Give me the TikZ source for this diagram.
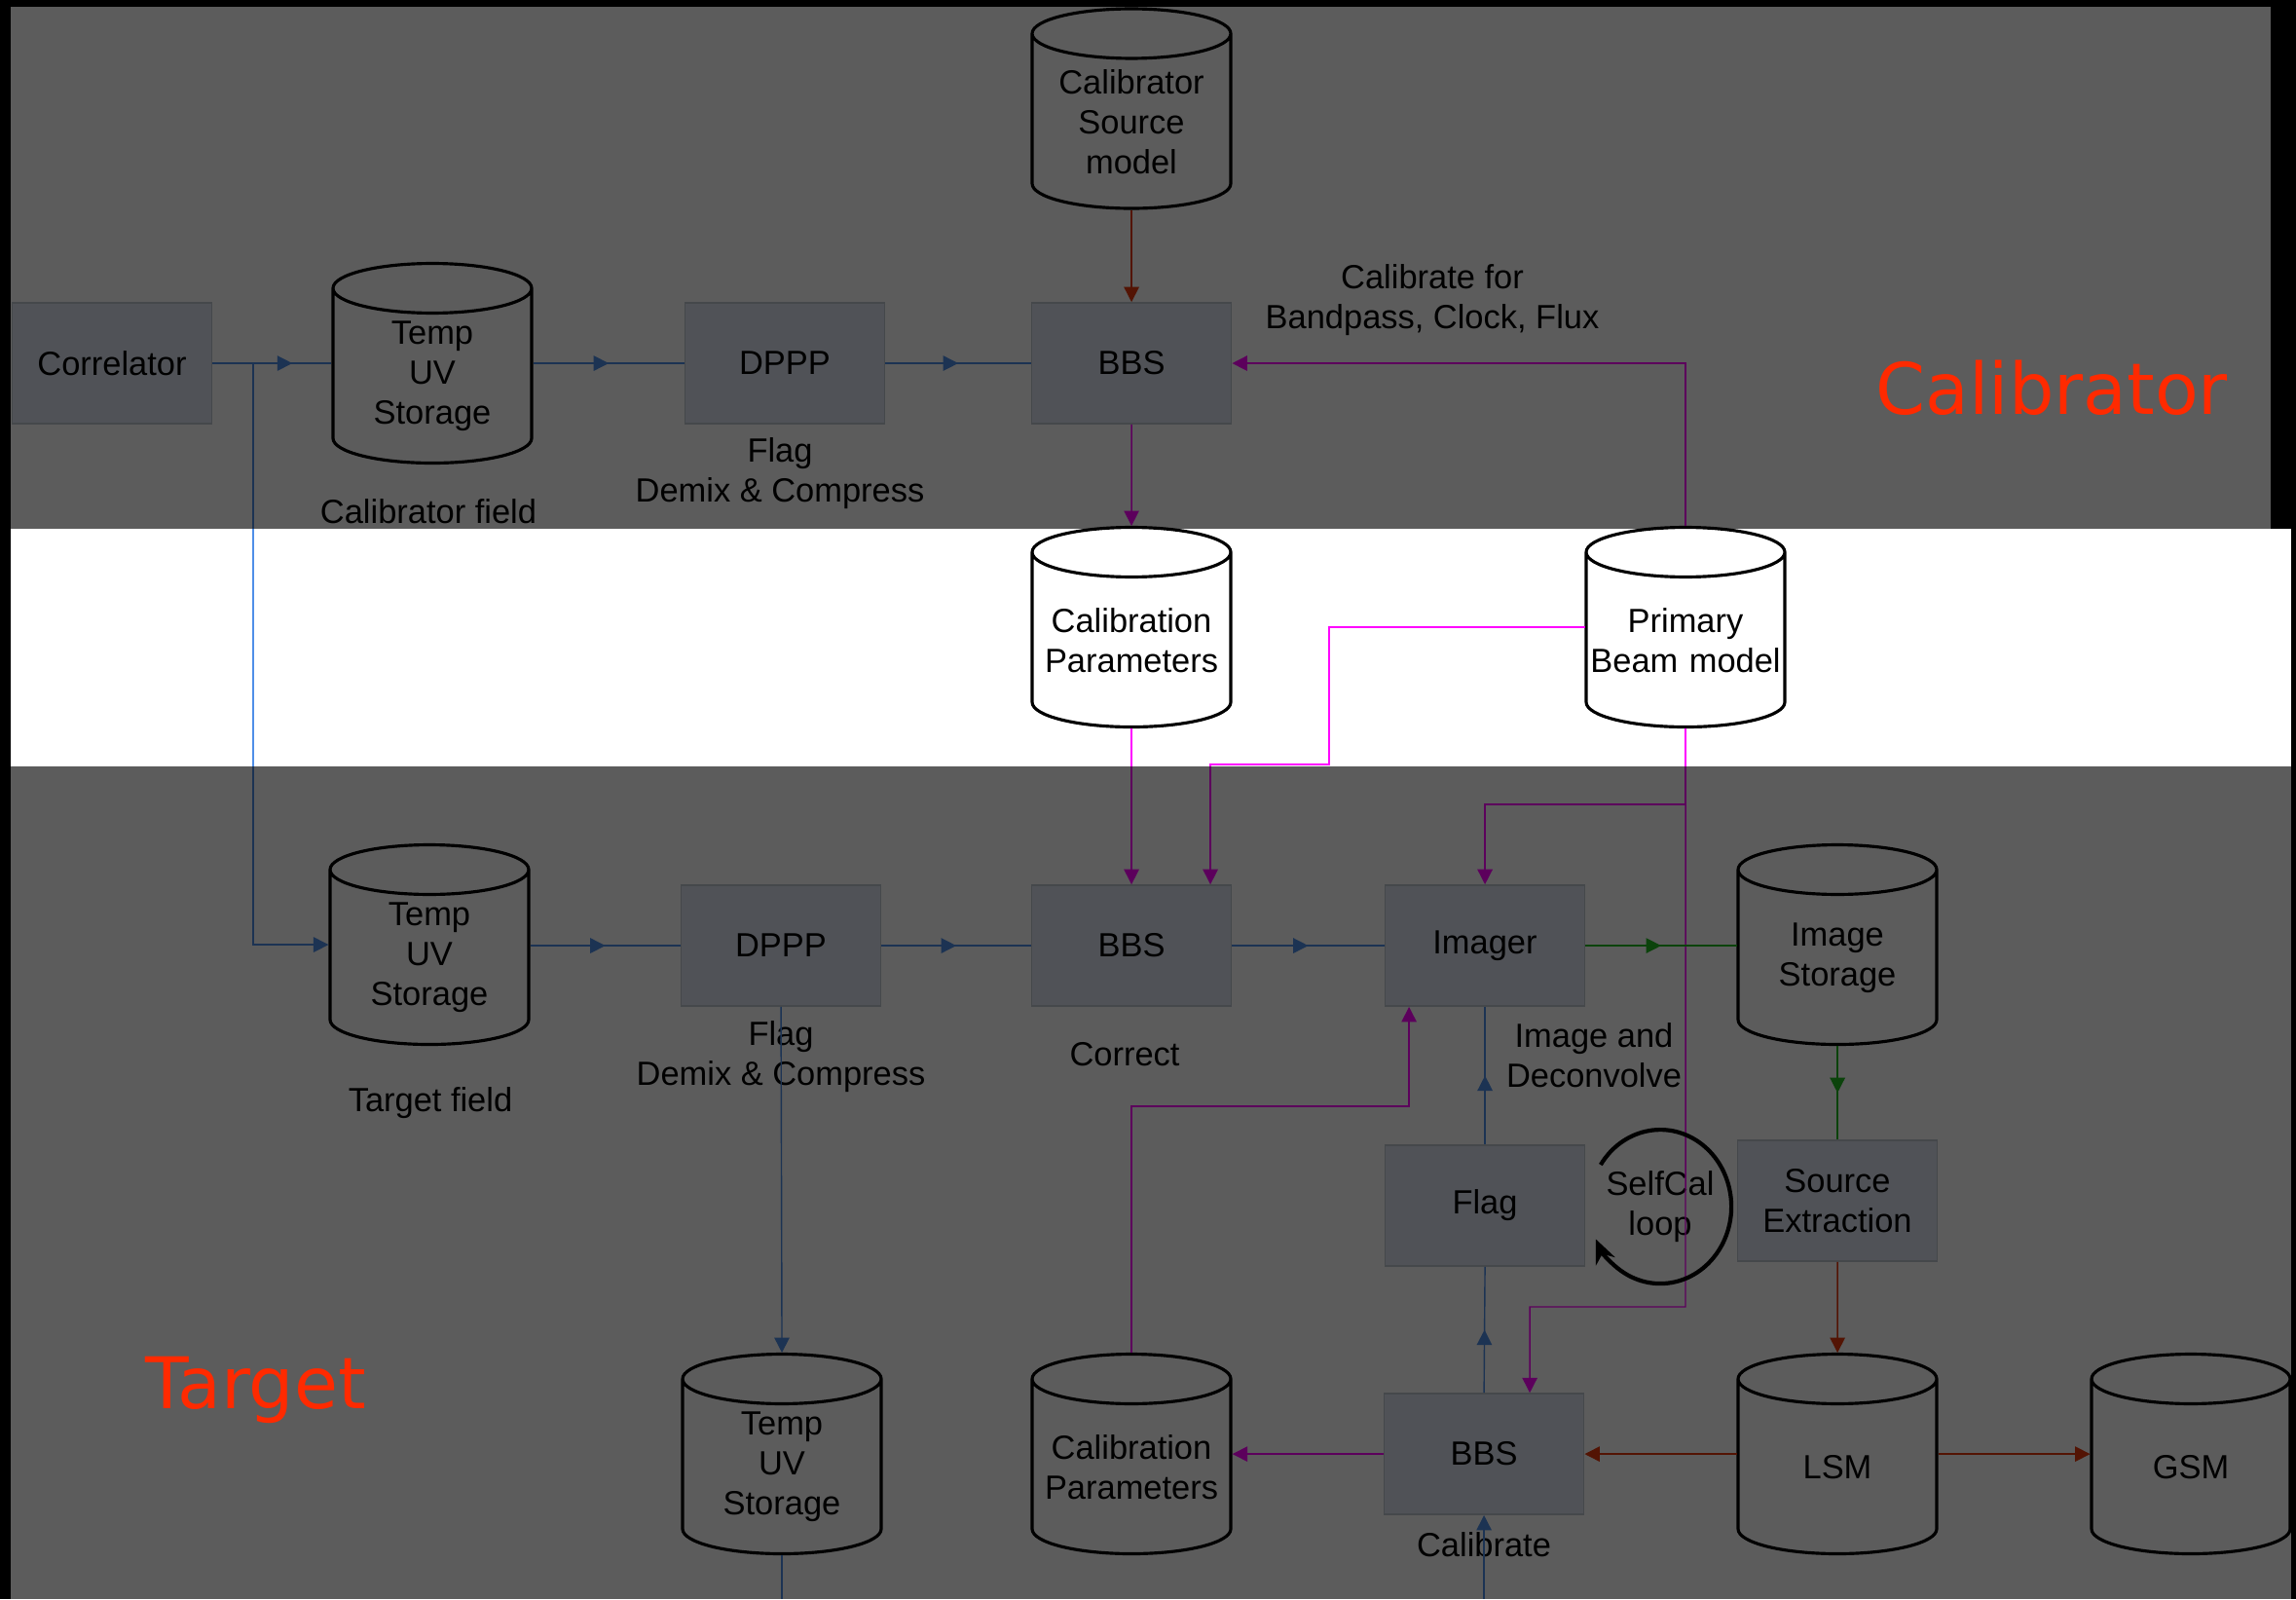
\documentclass[tikz,border=0pt]{standalone}
\usepackage{fontspec}
\setmainfont{Liberation Sans}
\newfontfamily\tagfont{DejaVu Sans}
\usetikzlibrary{shapes.geometric,arrows.meta,decorations.markings,calc}
\definecolor{boxfill}{HTML}{DFE6F3}
\definecolor{boxline}{HTML}{C2C8D2}
\definecolor{flowblue}{HTML}{4F8FE8}
\definecolor{flowpink}{HTML}{FF00FF}
\definecolor{flowred}{HTML}{E8380D}
\definecolor{flowgreen}{HTML}{22BB22}
\definecolor{tagred}{HTML}{FF2A00}

\begin{document}
\begin{tikzpicture}[scale=0.1]
\tikzstyle{every node}+=[inner sep=0pt, font=\fontsize{9.8pt}{11.7pt}\selectfont, align=center]
\tikzstyle{box}=[rectangle, draw=boxline, fill=boxfill, line width=0.5pt, minimum width=2.05cm, minimum height=1.24cm]
\tikzstyle{store}=[cylinder, shape border rotate=90, aspect=0.26, draw=black, fill=white, line width=0.9pt, text width=1.96cm, minimum width=2.04cm, minimum height=2.05cm, anchor=shape center]
\tikzstyle{flow}=[line width=0.4pt, -{Triangle[length=4.4pt,width=4.4pt]}]
\tikzstyle{midflow}=[line width=0.4pt, postaction={decorate}, decoration={markings, mark=at position 0.5 with {\arrow{Triangle[length=4.4pt,width=4.4pt]}}}]
\useasboundingbox (0,0) rectangle (235.8,-164.2);
\fill[black] (0,0) rectangle (235.8,-164.2);
\fill[white] (1.1,-0.7) rectangle (235.3,-164.2);
% calibrator field
\node[box] (corr) at (11.5,-37.3) {Correlator};
\node[store] (uv1) at (44.4,-37.3) {Temp\\UV\\Storage};
\node[box] (dppp1) at (80.6,-37.3) {DPPP};
\node[box] (bbs1) at (116.2,-37.3) {BBS};
\node[store] (calmod) at (116.2,-11.15) {Calibrator\\Source\\model};
\node (calfield) at (44.0,-52.5) {Calibrator field};
\node (dppp1txt) at (80.1,-48.65) {Flag\\Demix \& Compress};
\node (bbs1txt) at (147.1,-30.85) {Calibrate for\\Bandpass, Clock, Flux};
% shared models
\node[store] (calpar1) at (116.2,-64.4) {Calibration\\Parameters};
\node[store] (beam) at (173.1,-64.4) {Primary\\Beam model};
% target field
\node[store] (uv2) at (44.1,-97.0) {Temp\\UV\\Storage};
\node[box] (dppp2) at (80.2,-97.1) {DPPP};
\node[box] (bbs2) at (116.2,-97.1) {BBS};
\node[box] (imager) at (152.5,-97.1) {Imager};
\node[store] (imgst) at (188.7,-97.0) {Image\\Storage};
\node (tgtfield) at (44.2,-113.3) {Target field};
\node (dppp2txt) at (80.2,-108.5) {Flag\\Demix \& Compress};
\node (bbs2txt) at (115.5,-108.3) {Correct};
\node (imagertxt) at (163.7,-108.35) {Image and\\Deconvolve};
\node[box] (flag) at (152.5,-123.8) {Flag};
\node (selfcal) at (170.5,-123.9) {SelfCal\\loop};
\node[box] (srcx) at (188.7,-123.3) {Source\\Extraction};
\node[store] (uv3) at (80.3,-149.3) {Temp\\UV\\Storage};
\node[store] (calpar2) at (116.2,-149.3) {Calibration\\Parameters};
\node[box] (bbs3) at (152.4,-149.3) {BBS};
\node[store] (lsm) at (188.7,-149.3) {LSM};
\node[store] (gsm) at (225.0,-149.3) {GSM};
\node (bbs3txt) at (152.4,-158.6) {Calibrate};
\coordinate (split) at (26.0,-37.3);
\coordinate (beamsplit) at (173.1,-82.6);
\coordinate (calin) at (152.4,-164.2);
\coordinate (uvout) at (80.3,-164.2);
% connectors
\draw[flowblue, line width=0.4pt] (corr.east) -- (split);
\draw[flowblue, midflow] (split) -- (uv1.west |- split);
\draw[flowblue, flow] (split) |- (uv2.west |- uv2.shape center);
\draw[flowblue, midflow] (uv1.east |- dppp1.west) -- (dppp1.west);
\draw[flowblue, midflow] (dppp1.east) -- (bbs1.west);
\draw[flowred, flow] (calmod.south) -- (bbs1.north);
\draw[flowpink, flow] (bbs1.south) -- (calpar1.north);
\draw[flowpink, flow] (beam.north) |- (bbs1.east);
\draw[flowpink, flow] (calpar1.south) -- (bbs2.north);
\draw[flowpink, flow] (beam.west |- beam.shape center) -| (136.5,-78.5) -| ($(bbs2.north)+(8.1,0)$);
\draw[flowpink, flow] (beam.south) -- (beamsplit) -| (imager.north);
\draw[flowpink, flow] (beamsplit) -- (173.1,-134.2) -| ($(bbs3.north)+(4.7,0)$);
\draw[flowblue, midflow] (uv2.east |- dppp2.west) -- (dppp2.west);
\draw[flowblue, midflow] (dppp2.east) -- (bbs2.west);
\draw[flowblue, midflow] (bbs2.east) -- (imager.west);
\draw[flowgreen, midflow] (imager.east) -- (imgst.west |- imager.east);
\draw[flowgreen, midflow] (imgst.south) -- (srcx.north);
\draw[flowred, flow] (srcx.south) -- (lsm.north);
\draw[flowblue, flow] (dppp2.south) -- (uv3.north);
\draw[flowblue, line width=0.4pt] (uv3.south) -- (uvout);
\draw[flowblue, midflow] (flag.north) -- (imager.south);
\draw[flowblue, midflow] (bbs3.north) -- (flag.south);
\draw[flowblue, flow] (calin) -- (bbs3.south);
\draw[flowpink, flow] (calpar2.north) -- ++(0,25.3) -| ($(imager.south)+(-7.8,0)$);
\draw[flowpink, flow] (bbs3.west) -- (calpar2.east |- bbs3.west);
\draw[flowred, flow] (lsm.west |- bbs3.east) -- (bbs3.east);
\draw[flowred, flow] (lsm.east |- bbs3.east) -- (gsm.west |- bbs3.east);
\draw[line width=1.2pt, -{Stealth[length=7pt,width=6pt]}] ($(selfcal)+(147:7.3 and 7.9)$) arc[start angle=147, end angle=-155, x radius=7.3, y radius=7.9];
% shading of the two fields
\fill[black, opacity=0.64] (1.1,-0.7) rectangle (233.2,-54.3);
\fill[black, opacity=0.64] (1.1,-78.7) rectangle (235.3,-164.2);
\fill[black] (233.2,-0.7) rectangle (235.8,-54.3);
\node[font=\tagfont\fontsize{20.8pt}{24pt}\selectfont, text=tagred, anchor=base west] (caltag) at (192.6,-42.5) {Calibrator};
\node[font=\tagfont\fontsize{20.8pt}{24pt}\selectfont, text=tagred, anchor=base west] (tgttag) at (14.9,-144.6) {Target};
\end{tikzpicture}
\end{document}
